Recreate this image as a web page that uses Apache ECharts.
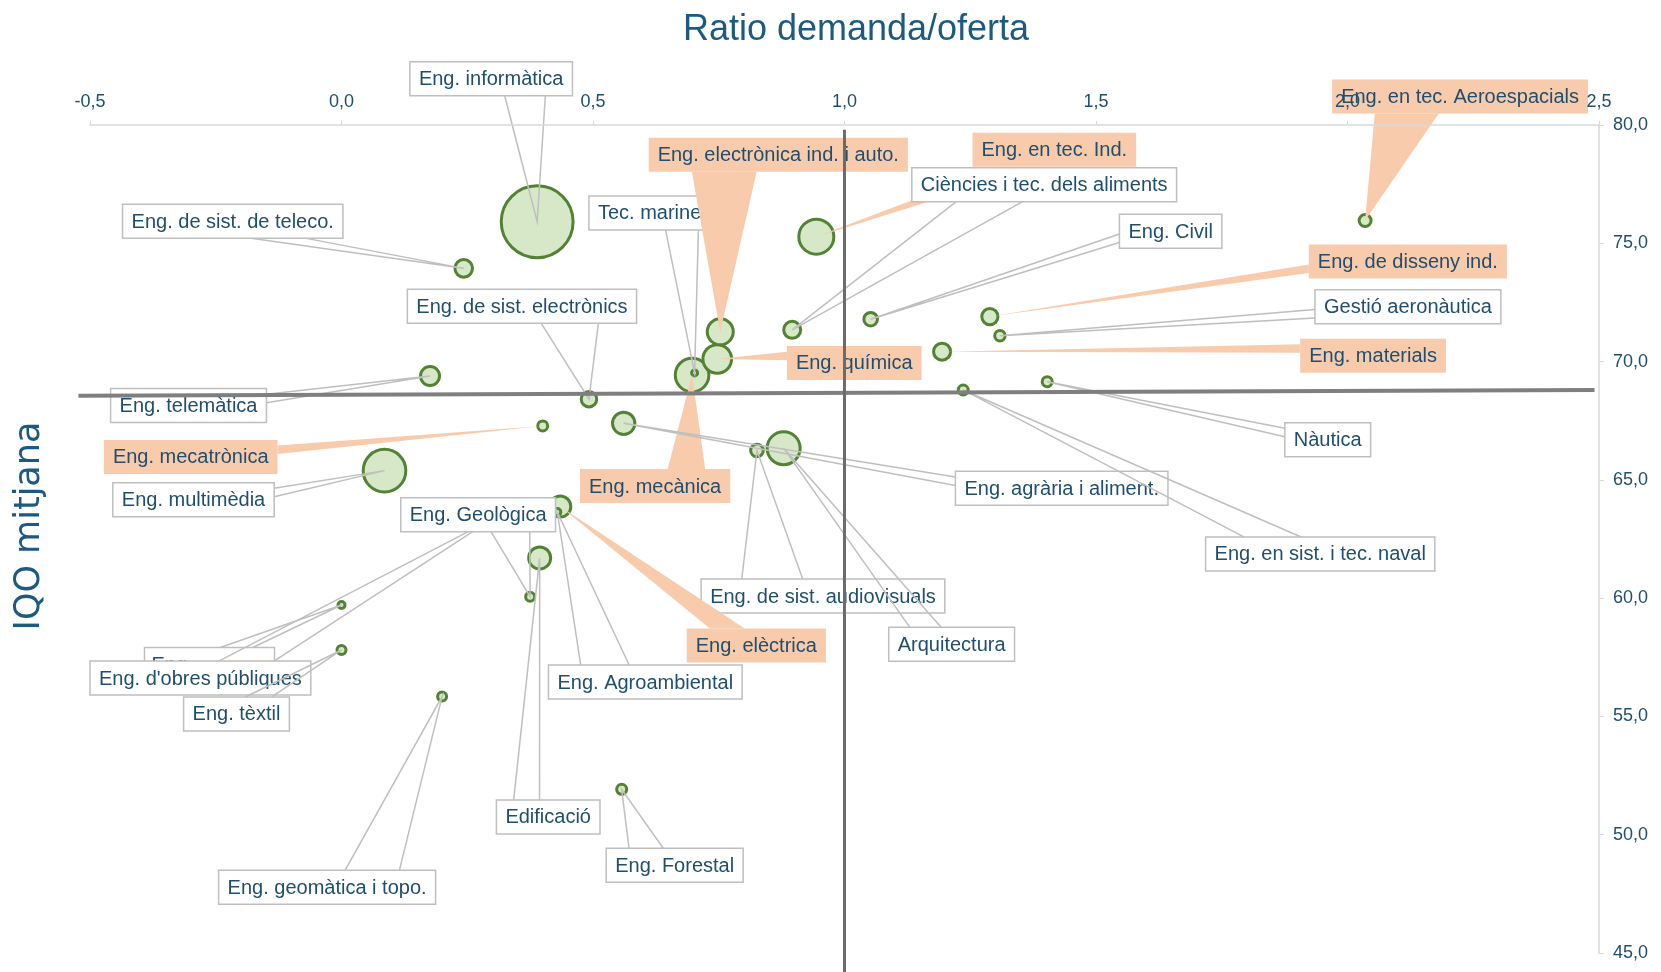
<!DOCTYPE html>
<html><head><meta charset="utf-8">
<script src="https://cdn.jsdelivr.net/npm/echarts@6/dist/echarts.min.js"></script>
<style>html,body{margin:0;padding:0;background:#fff}#c{width:1661px;height:972px}</style>
</head><body><div id="c"></div>
<script>
// ---- data ----
const names = [
  'Eng. informàtica','Eng. de sist. de teleco.','Tec. marines','Eng. electrònica ind. i auto.',
  'Eng. en tec. Ind.','Ciències i tec. dels aliments','Eng. Civil','Eng. de disseny ind.',
  'Gestió aeronàutica','Eng. materials','Eng. química','Eng. de sist. electrònics',
  'Eng. telemàtica','Eng. mecatrònica','Eng. multimèdia','Eng. mecànica',
  'Eng. agrària i aliment.','Nàutica','Eng. en sist. i tec. naval','Eng. de sist. audiovisuals',
  'Arquitectura','Eng. elèctrica','Eng. Agroambiental','Eng.',
  "Eng. d'obres públiques",'Eng. Geològica','Eng. tèxtil','Edificació',
  'Eng. geomàtica i topo.','Eng. Forestal','Eng. en tec. Aeroespacials'
];
const ratio = [0.389,0.243,0.702,0.753, 0.944,0.896,1.052,1.289, 1.309,1.194,0.747,0.492,
  0.176,0.400,0.0855,0.697, 0.561,1.403,1.236,0.826, 0.879,0.435,0.429,0.0, 0.296,0.375,0.0,0.394,
  0.200,0.557,2.035];
const iqo = [75.91,73.94,69.52,71.26, 75.28,71.34,71.79,71.90, 71.09,70.42,70.11,68.41,
  69.39,67.28,65.39,69.43, 67.39,69.15,68.80,66.24, 66.34,63.87,63.64,59.71, 63.30,60.06,57.81,61.70,
  55.84,51.92,75.96];
const bubbleSize = [1400,106,20,210, 361,100,69,92, 45,100,250,85,
  121,42,520,335, 160,42,42,61, 324,144,25,25, 16,36,36,156,
  36,42,56];
// reference (average) lines
const refRatio = 1.0;
const refRatioSpan = [-0.523, 2.491];
const refIqo = [68.55, 68.80];
const refIqoSpan = [79.8, 44.2];
// ticks
const xTickValues = [-0.5,0,0.5,1,1.5,2,2.5];
const xTickLabels = ['-0,5','0,0','0,5','1,0','1,5','2,0','2,5'];
const yTickValues = [45,50,55,60,65,70,75,80];
const yTickLabels = ['45,0','50,0','55,0','60,0','65,0','70,0','75,0','80,0'];

// ---- label layout / style (pixel offsets of callout boxes from their point) ----
const highlighted = [0,0,0,1, 1,0,0,1, 0,1,1,0, 0,1,0,1, 0,0,0,0, 0,1,0,0, 0,0,0,0, 0,0,1];
const labelOffsets = [[-46,-143],[-231,-47],[-40,-160],[58,-177],
  [238,-87],[252,-145],[300,-88],[418,-55],
  [408,-29],[431,4],[137,4],[-67,-93],
  [-241.5,29.5],[-352,31],[-191,29],[-37,111],
  [438,65],[280.5,58],[357,164],[66,145.5],
  [168,196],[196,139],[88,170],[-132,59.5],
  [-290,158],[-52,-82],[-105,64],[8.5,259],
  [-115,190.6],[53,76],[95,-124]];
const labelWidths = {23:130};

const TEXTC = '#1f4e6e', ORANGE = '#f8cbad', GREY = '#bfbfbf';
const LABEL_FONT = '20px "Liberation Sans", Arial, sans-serif';
const PADX = 9, BOXH = 34;
const mctx = document.createElement('canvas').getContext('2d');
function textWidth(t){ mctx.font = LABEL_FONT; return mctx.measureText(t).width; }

function renderLabel(params, api){
  const i = params.dataIndex;
  const p = api.coord([api.value(0), api.value(1)]);
  const off = labelOffsets[i];
  const cx = p[0] + off[0], cy = p[1] + off[1];
  const text = names[i];
  const fixedW = labelWidths[i];
  const w = fixedW || (textWidth(text) + 2*PADX), h = BOXH;
  const l = cx - w/2, t = cy - h/2;
  const dxPos = p[0] - cx, dyPos = p[1] - cy;
  let b1, b2;
  if (Math.abs(dyPos*w) > Math.abs(dxPos*h)) {
    const ey = dyPos > 0 ? t + h : t;
    b1 = [l + w*(dxPos > 0 ? 7 : 2)/12, ey]; b2 = [l + w*(dxPos > 0 ? 10 : 5)/12, ey];
  } else {
    const ex = dxPos > 0 ? l + w : l;
    b1 = [ex, t + h*(dyPos > 0 ? 7 : 2)/12]; b2 = [ex, t + h*(dyPos > 0 ? 10 : 5)/12];
  }
  const z2 = i*3;
  const children = [];
  if (highlighted[i]) {
    children.push({type:'polygon', z2:z2, shape:{points:[b1,p,b2]}, style:{fill:ORANGE}});
    children.push({type:'rect', z2:z2, shape:{x:l,y:t,width:w,height:h}, style:{fill:ORANGE}});
  } else {
    children.push({type:'polyline', z2:z2, shape:{points:[b1,p,b2]}, style:{stroke:GREY, lineWidth:1.5, fill:'none'}});
    children.push({type:'rect', z2:z2+1, shape:{x:l,y:t,width:w,height:h}, style:{fill:'#fff', stroke:GREY, lineWidth:1.5}});
  }
  children.push({type:'text', z2:z2+2, x: fixedW ? l + 7 : cx, y: cy + 1,
    style:{text:text, font:LABEL_FONT, fill:TEXTC, align: fixedW ? 'left' : 'center', verticalAlign:'middle'}});
  return {type:'group', children:children};
}

function renderRef(params, api){
  const a = api.coord([refRatioSpan[0], refIqo[0]]);
  const b = api.coord([refRatioSpan[1], refIqo[1]]);
  const c = api.coord([refRatio, refIqoSpan[0]]);
  const d = api.coord([refRatio, refIqoSpan[1]]);
  return {type:'group', children:[
    {type:'line', shape:{x1:a[0],y1:a[1],x2:b[0],y2:b[1]}, style:{stroke:'#7f7f7f', lineWidth:4}},
    {type:'line', shape:{x1:c[0],y1:c[1],x2:d[0],y2:d[1]}, style:{stroke:'#6b6b6b', lineWidth:3}}
  ]};
}

const idx = names.map((_, i) => i);
const bubbleData = idx.slice().sort((a,b) => bubbleSize[b]-bubbleSize[a])
  .map(i => [ratio[i], iqo[i], bubbleSize[i]]);
const labelData = idx.map(i => [ratio[i], iqo[i]]);

const chart = echarts.init(document.getElementById('c'), null, {renderer:'canvas'});
chart.setOption({
  animation:false,
  backgroundColor:'#fff',
  grid:{left:90, right:62, top:125, bottom:19, containLabel:false},
  xAxis:{type:'value', position:'top', min:-0.5, max:2.5, interval:0.5, z:10,
    axisLine:{onZero:false, lineStyle:{color:'#d9d9d9', width:1.5}},
    axisTick:{show:true, length:4, lineStyle:{color:'#d9d9d9'}},
    splitLine:{show:false},
    axisLabel:{margin:14, color:TEXTC, fontSize:18, fontFamily:'"Liberation Sans", Arial, sans-serif',
      formatter:v => { const k = xTickValues.findIndex(t => Math.abs(t-v) < 1e-9); return k >= 0 ? xTickLabels[k] : ''; }}
  },
  yAxis:{type:'value', position:'right', min:45, max:80, interval:5, z:10,
    axisLine:{show:true, onZero:false, lineStyle:{color:'#d9d9d9', width:1.5}},
    axisTick:{show:true, length:5, lineStyle:{color:'#d9d9d9'}},
    splitLine:{show:false},
    axisLabel:{margin:14, color:TEXTC, fontSize:18, fontFamily:'"Liberation Sans", Arial, sans-serif',
      formatter:v => { const k = yTickValues.findIndex(t => Math.abs(t-v) < 1e-9); return k >= 0 ? yTickLabels[k] : ''; }}
  },
  graphic:[
    {type:'text', x:856, y:30, z:20, style:{text:'Ratio demanda/oferta', font:'36px "Liberation Sans", Arial, sans-serif', fill:'#1d5a80', align:'center', verticalAlign:'middle'}},
    {type:'text', x:30, y:526, rotation:Math.PI/2, z:20, style:{text:'IQO mitjana', font:'35px "DejaVu Sans", sans-serif', fill:'#1d5a80', align:'center', verticalAlign:'middle'}}
  ],
  series:[
    {type:'scatter', z:2, data:bubbleData, symbol:'circle',
      symbolSize:v => Math.max(4, 2*Math.sqrt(v[2]) - 3),
      itemStyle:{color:'#d6e8c7', borderColor:'#548235', borderWidth:3, opacity:1},
      emphasis:{disabled:true}, silent:true},
    {type:'custom', z:3, clip:false, data:labelData, renderItem:renderLabel, silent:true},
    {type:'custom', z:5, clip:false, data:[[refRatio, refIqo[0]]], renderItem:renderRef, silent:true}
  ]
});
</script></body></html>
